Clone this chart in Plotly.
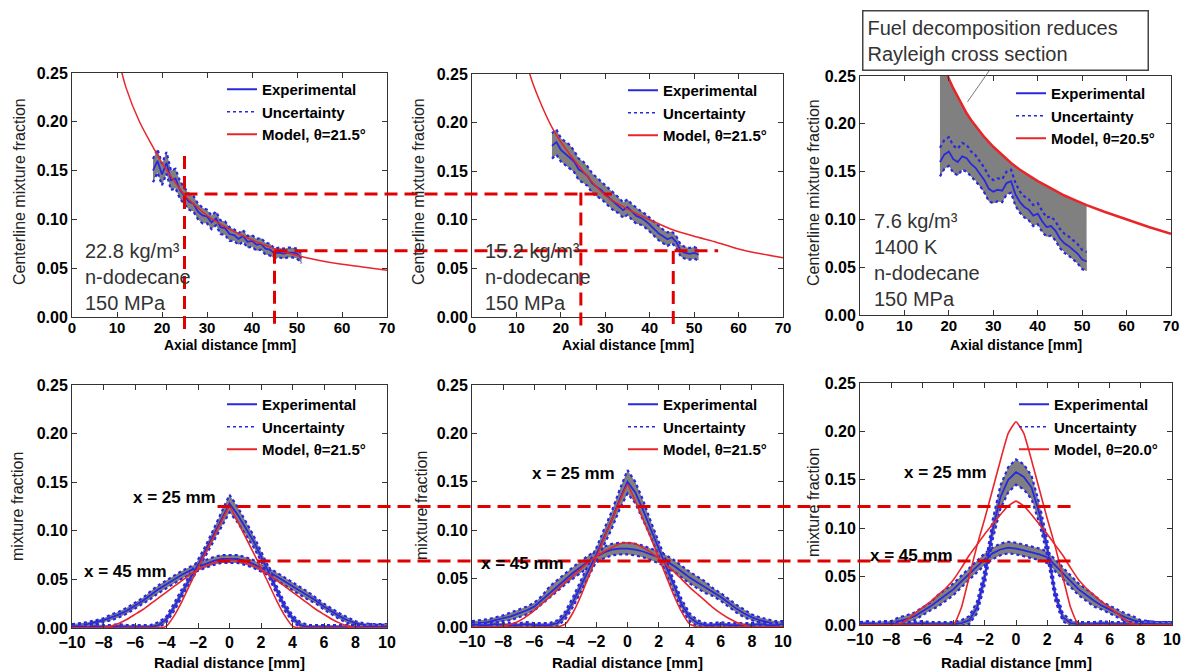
import plotly.graph_objects as go

W, H = 1195, 672
FONT = "Liberation Sans"
BLUE = "#2828e0"
RED = "#e8262a"
GRAY = "#808080"
GUIDE = "#e00000"

# ---------------- data: centreline (top row) ----------------
axial_x = [18, 19, 20, 21, 22, 23, 24, 25, 26, 27, 28, 29, 30, 31, 32, 33, 34,
           35, 36, 37, 38, 39, 40, 41, 42, 43, 44, 45, 46, 47, 48, 49, 50, 51]

exp_c1 = [0.150, 0.160, 0.146, 0.158, 0.140, 0.142, 0.130, 0.124, 0.118, 0.116, 0.108, 0.104,
          0.103, 0.097, 0.101, 0.092, 0.091, 0.085, 0.084, 0.080, 0.083, 0.077, 0.078, 0.074,
          0.075, 0.070, 0.069, 0.065, 0.066, 0.065, 0.066, 0.066, 0.065, 0.060]
unc_c1 = [0.012, 0.012, 0.011, 0.011, 0.010, 0.010, 0.009, 0.009, 0.008, 0.008, 0.008, 0.008,
          0.007, 0.007, 0.007, 0.007, 0.007, 0.007, 0.006, 0.006, 0.006, 0.006, 0.006, 0.006,
          0.006, 0.006, 0.006, 0.005, 0.005, 0.005, 0.005, 0.005, 0.005, 0.005]

exp_c2 = [0.176, 0.180, 0.172, 0.168, 0.165, 0.160, 0.152, 0.149, 0.145, 0.138, 0.134, 0.131,
          0.126, 0.122, 0.118, 0.115, 0.110, 0.113, 0.108, 0.104, 0.102, 0.099, 0.095, 0.090,
          0.086, 0.083, 0.080, 0.082, 0.077, 0.068, 0.066, 0.065, 0.066, 0.064]
unc_c2 = [0.013, 0.013, 0.012, 0.012, 0.012, 0.011, 0.011, 0.011, 0.010, 0.010, 0.010, 0.009,
          0.009, 0.009, 0.009, 0.008, 0.008, 0.008, 0.008, 0.008, 0.007, 0.007, 0.007, 0.007,
          0.007, 0.007, 0.007, 0.006, 0.006, 0.006, 0.006, 0.006, 0.006, 0.006]

exp_c3 = [0.160, 0.168, 0.171, 0.163, 0.160, 0.166, 0.164, 0.158, 0.154, 0.148, 0.141, 0.132,
          0.129, 0.131, 0.130, 0.138, 0.140, 0.126, 0.118, 0.113, 0.110, 0.104, 0.106, 0.098,
          0.092, 0.093, 0.088, 0.080, 0.075, 0.072, 0.068, 0.064, 0.058, 0.056]
unc_c3 = [0.015, 0.015, 0.015, 0.014, 0.014, 0.014, 0.014, 0.013, 0.013, 0.013, 0.013, 0.013,
          0.012, 0.012, 0.012, 0.012, 0.012, 0.012, 0.011, 0.011, 0.011, 0.011, 0.011, 0.011,
          0.010, 0.010, 0.010, 0.010, 0.010, 0.010, 0.010, 0.010, 0.010, 0.010]

model_x1 = [10, 12, 15, 20, 25, 30, 35, 40, 45, 50, 55, 60, 65, 70]
model_c1 = [0.270, 0.235, 0.200, 0.158, 0.125, 0.104, 0.090, 0.079, 0.070, 0.063, 0.058, 0.054, 0.051, 0.048]
model_x2 = [12, 13, 15, 18, 20, 25, 30, 35, 40, 45, 50, 55, 60, 65, 70]
model_c2 = [0.270, 0.250, 0.225, 0.195, 0.180, 0.150, 0.125, 0.111, 0.100, 0.090, 0.083, 0.077, 0.070, 0.065, 0.061]
model_x3 = [18, 19, 20, 21, 22, 23, 24, 25, 26, 28, 30, 32, 34, 36, 38, 40, 42, 44, 46, 48,
            50, 51, 55, 60, 65, 70]
model_c3 = [0.272, 0.259, 0.247, 0.237, 0.228, 0.219, 0.211, 0.204, 0.198, 0.186, 0.176, 0.167,
            0.159, 0.152, 0.146, 0.140, 0.135, 0.130, 0.125, 0.121, 0.117, 0.115, 0.108, 0.100,
            0.092, 0.085]

# ---------------- data: radial profiles (bottom row) ----------------
radial_r = [-10.0, -9.5, -9.0, -8.5, -8.0, -7.5, -7.0, -6.5, -6.0, -5.5, -5.0, -4.5, -4.0, -3.5,
            -3.0, -2.5, -2.0, -1.5, -1.0, -0.5, 0.0, 0.5, 1.0, 1.5, 2.0, 2.5, 3.0, 3.5, 4.0,
            4.5, 5.0, 5.5, 6.0, 6.5, 7.0, 7.5, 8.0, 8.5, 9.0, 9.5, 10.0]

# panel 4 (22.8 kg/m3)
exp25_p4 = [0.002, 0.002, 0.001, 0.002, 0.001, 0.001, 0.002, 0.001, 0.001, 0.001, 0.001, 0.003,
            0.009, 0.022, 0.037, 0.051, 0.065, 0.080, 0.096, 0.112, 0.128, 0.117, 0.104, 0.090,
            0.074, 0.057, 0.039, 0.022, 0.010, 0.003, 0.001, 0.001, 0.001, 0.001, 0.001, 0.001,
            0.001, 0.001, 0.002, 0.001, 0.002]
unc25_p4 = [0.002, 0.002, 0.002, 0.002, 0.002, 0.002, 0.002, 0.002, 0.002, 0.002, 0.002, 0.003,
            0.003, 0.004, 0.004, 0.004, 0.005, 0.005, 0.006, 0.007, 0.009, 0.008, 0.007, 0.006,
            0.005, 0.005, 0.004, 0.004, 0.003, 0.003, 0.002, 0.002, 0.002, 0.002, 0.002, 0.002,
            0.002, 0.002, 0.002, 0.002, 0.002]
model25_p4 = [0, 0, 0, 0, 0, 0, 0, 0, 0, 0, 0, 0,
              0.002, 0.013, 0.028, 0.045, 0.062, 0.078, 0.094, 0.110, 0.125, 0.110, 0.094, 0.078,
              0.062, 0.045, 0.028, 0.013, 0.002,
              0, 0, 0, 0, 0, 0, 0, 0, 0, 0, 0, 0]
exp45_p4 = [0.002, 0.003, 0.004, 0.006, 0.008, 0.011, 0.014, 0.018, 0.023, 0.028, 0.034, 0.040,
            0.045, 0.050, 0.055, 0.059, 0.063, 0.066, 0.069, 0.071, 0.071, 0.071, 0.069, 0.066,
            0.062, 0.058, 0.053, 0.048, 0.043, 0.038, 0.033, 0.028, 0.022, 0.017, 0.012, 0.008,
            0.005, 0.003, 0.002, 0.002, 0.002]
unc45_p4 = [0.002, 0.002, 0.002, 0.002, 0.002, 0.003, 0.003, 0.003, 0.003, 0.003, 0.004, 0.004,
            0.004, 0.004, 0.004, 0.004, 0.004, 0.004, 0.004, 0.004, 0.004, 0.004, 0.004, 0.004,
            0.004, 0.004, 0.004, 0.004, 0.004, 0.004, 0.004, 0.003, 0.003, 0.003, 0.003, 0.003,
            0.002, 0.002, 0.002, 0.002, 0.002]
model45_p4 = [0, 0, 0, 0, 0.000, 0.002, 0.005, 0.009, 0.014, 0.019, 0.025, 0.031, 0.037, 0.043,
              0.049, 0.055, 0.060, 0.064, 0.067, 0.069, 0.070, 0.069, 0.067, 0.064, 0.060, 0.055,
              0.049, 0.043, 0.037, 0.031, 0.025, 0.019, 0.014, 0.009, 0.005, 0.002, 0.000,
              0, 0, 0, 0]

# panel 5 (15.2 kg/m3)
exp25_p5 = [0.003, 0.002, 0.002, 0.003, 0.002, 0.002, 0.002, 0.003, 0.002, 0.002, 0.002, 0.004,
            0.012, 0.026, 0.042, 0.058, 0.075, 0.093, 0.111, 0.132, 0.150, 0.139, 0.121, 0.101,
            0.081, 0.061, 0.041, 0.023, 0.010, 0.004, 0.002, 0.002, 0.003, 0.002, 0.002, 0.002,
            0.002, 0.003, 0.002, 0.002, 0.003]
unc25_p5 = [0.002, 0.002, 0.002, 0.002, 0.002, 0.002, 0.002, 0.002, 0.002, 0.002, 0.002, 0.003,
            0.004, 0.005, 0.006, 0.006, 0.007, 0.008, 0.009, 0.010, 0.012, 0.011, 0.010, 0.008,
            0.007, 0.006, 0.006, 0.005, 0.004, 0.003, 0.002, 0.002, 0.002, 0.002, 0.002, 0.002,
            0.002, 0.002, 0.002, 0.002, 0.002]
model25_p5 = [0, 0, 0, 0, 0, 0, 0, 0, 0, 0, 0, 0,
              0.003, 0.015, 0.032, 0.052, 0.072, 0.092, 0.111, 0.130, 0.147, 0.130, 0.111, 0.092,
              0.072, 0.052, 0.032, 0.015, 0.003,
              0, 0, 0, 0, 0, 0, 0, 0, 0, 0, 0, 0]
exp45_p5 = [0.003, 0.004, 0.005, 0.007, 0.009, 0.011, 0.014, 0.017, 0.021, 0.028, 0.036, 0.043,
            0.050, 0.056, 0.062, 0.068, 0.073, 0.077, 0.080, 0.081, 0.081, 0.080, 0.078, 0.075,
            0.072, 0.068, 0.063, 0.057, 0.051, 0.046, 0.041, 0.036, 0.031, 0.025, 0.019, 0.014,
            0.010, 0.007, 0.005, 0.003, 0.003]
unc45_p5 = [0.003, 0.003, 0.003, 0.003, 0.003, 0.004, 0.004, 0.004, 0.004, 0.004, 0.006, 0.006,
            0.006, 0.006, 0.006, 0.006, 0.006, 0.006, 0.006, 0.006, 0.006, 0.006, 0.006, 0.006,
            0.006, 0.006, 0.006, 0.006, 0.006, 0.006, 0.006, 0.004, 0.004, 0.004, 0.004, 0.004,
            0.003, 0.003, 0.003, 0.003, 0.003]
model45_p5 = [0, 0, 0, 0, 0.001, 0.003, 0.006, 0.011, 0.017, 0.024, 0.031, 0.039, 0.046, 0.053,
              0.060, 0.067, 0.073, 0.078, 0.082, 0.086, 0.087, 0.086, 0.082, 0.077, 0.071, 0.064,
              0.057, 0.049, 0.041, 0.034, 0.027, 0.020, 0.014, 0.009, 0.005, 0.002, 0.000,
              0, 0, 0, 0]

# panel 6 (7.6 kg/m3, 1400 K)
exp25_p6 = [0.001, 0.002, 0.001, 0.001, 0.002, 0.001, 0.001, 0.001, 0.002, 0.001, 0.001, 0.001,
            0.001, 0.002, 0.005, 0.018, 0.050, 0.098, 0.132, 0.150, 0.158, 0.153, 0.142, 0.115,
            0.080, 0.032, 0.008, 0.002, 0.001, 0.001, 0.001, 0.002, 0.001, 0.001, 0.001, 0.001,
            0.001, 0.002, 0.001, 0.001, 0.001]
unc25_p6 = [0.002, 0.002, 0.002, 0.002, 0.002, 0.002, 0.002, 0.002, 0.002, 0.002, 0.002, 0.002,
            0.002, 0.003, 0.004, 0.006, 0.008, 0.010, 0.012, 0.013, 0.013, 0.013, 0.012, 0.010,
            0.008, 0.006, 0.004, 0.003, 0.002, 0.002, 0.002, 0.002, 0.002, 0.002, 0.002, 0.002,
            0.002, 0.002, 0.002, 0.002, 0.002]
model25_p6 = [0, 0, 0, 0, 0, 0, 0, 0, 0, 0, 0, 0,
              0.000, 0.018, 0.050, 0.082, 0.110, 0.140, 0.170, 0.198, 0.210, 0.198, 0.170, 0.140,
              0.110, 0.082, 0.050, 0.018, 0.000,
              0, 0, 0, 0, 0, 0, 0, 0, 0, 0, 0, 0]
exp45_p6 = [0.001, 0.001, 0.001, 0.002, 0.002, 0.004, 0.006, 0.009, 0.014, 0.019, 0.025, 0.031,
            0.037, 0.045, 0.053, 0.061, 0.068, 0.074, 0.078, 0.080, 0.079, 0.077, 0.075, 0.073,
            0.070, 0.062, 0.053, 0.045, 0.037, 0.031, 0.025, 0.020, 0.016, 0.012, 0.008, 0.005,
            0.003, 0.002, 0.001, 0.001, 0.001]
unc45_p6 = [0.002, 0.002, 0.002, 0.002, 0.002, 0.004, 0.004, 0.004, 0.004, 0.004, 0.006, 0.006,
            0.006, 0.006, 0.006, 0.006, 0.006, 0.006, 0.006, 0.006, 0.006, 0.006, 0.006, 0.006,
            0.006, 0.006, 0.006, 0.006, 0.006, 0.006, 0.006, 0.004, 0.004, 0.004, 0.004, 0.004,
            0.002, 0.002, 0.002, 0.002, 0.002]
model45_p6 = [0, 0, 0, 0, 0, 0.001, 0.005, 0.012, 0.018, 0.024, 0.031, 0.038, 0.047, 0.059,
              0.072, 0.083, 0.094, 0.104, 0.114, 0.123, 0.128, 0.123, 0.114, 0.104, 0.094, 0.083,
              0.072, 0.059, 0.047, 0.038, 0.031, 0.024, 0.018, 0.012, 0.005, 0.001,
              0, 0, 0, 0, 0]

model_names = ["Model, θ=21.5°", "Model, θ=21.5°", "Model, θ=20.5°",
               "Model, θ=21.5°", "Model, θ=21.5°", "Model, θ=20.0°"]
cond_texts = ["22.8 kg/m³<br>n-dodecane<br>150 MPa",
              "15.2 kg/m³<br>n-dodecane<br>150 MPa",
              "7.6 kg/m³<br>1400 K<br>n-dodecane<br>150 MPa"]
x_titles = ["Axial distance [mm]"] * 3 + ["Radial distance [mm]"] * 3
y_titles = ["Centerline mixture fraction"] * 3 + ["mixture fraction"] * 3

# ---------------- layout geometry (pixels) ----------------
P = {
    1: dict(px=(72, 387), py=(73, 317), xr=(0, 70)),
    2: dict(px=(472, 783), py=(74, 317), xr=(0, 70)),
    3: dict(px=(860, 1171), py=(76, 315), xr=(0, 70)),
    4: dict(px=(72, 387), py=(385, 628), xr=(-10, 10)),
    5: dict(px=(472, 783), py=(385, 627), xr=(-10, 10)),
    6: dict(px=(860, 1172), py=(383, 625), xr=(-10, 10)),
}
YR = (0, 0.25)
# axis-title pixel positions: (x-title centre y, y-title centre x, y-title centre y)
TITLE_POS = {1: (345, 19, 192), 2: (345, 418, 192), 3: (345, 813, 193),
             4: (662, 17, 507), 5: (662, 421, 506), 6: (662, 813, 503)}


def to_paper(i, xv, yv):
    p = P[i]
    px = p["px"][0] + (xv - p["xr"][0]) / (p["xr"][1] - p["xr"][0]) * (p["px"][1] - p["px"][0])
    py = p["py"][1] - (yv - YR[0]) / (YR[1] - YR[0]) * (p["py"][1] - p["py"][0])
    return px / W, 1 - py / H


fig = go.Figure()


def ax(i):
    return ("x" if i == 1 else f"x{i}"), ("y" if i == 1 else f"y{i}")


def leg(i):
    return "legend" if i == 1 else f"legend{i}"


def add_band(i, xs, ys, unc):
    xa, ya = ax(i)
    up = [a + b for a, b in zip(ys, unc)]
    lo = [a - b for a, b in zip(ys, unc)]
    fig.add_trace(go.Scatter(x=list(xs) + list(xs)[::-1], y=up + lo[::-1], fill="toself",
                             fillcolor=GRAY, line=dict(width=0), mode="lines",
                             hoverinfo="skip", showlegend=False, xaxis=xa, yaxis=ya))
    for yy in (up, lo):
        fig.add_trace(go.Scatter(x=xs, y=yy, mode="lines",
                                 line=dict(color=BLUE, width=2.2, dash="dot"),
                                 showlegend=False, xaxis=xa, yaxis=ya, hoverinfo="skip"))
    fig.add_trace(go.Scatter(x=xs, y=ys, mode="lines", line=dict(color=BLUE, width=1.8),
                             showlegend=False, xaxis=xa, yaxis=ya))


def add_model(i, xs, ys, width=1.5, shape="spline", smoothing=0.6):
    xa, ya = ax(i)
    ln = dict(color=RED, width=width, shape=shape)
    if shape == "spline":
        ln["smoothing"] = smoothing
    fig.add_trace(go.Scatter(x=xs, y=ys, mode="lines", line=ln,
                             showlegend=False, xaxis=xa, yaxis=ya))


def add_legend_entries(i):
    xa, ya = ax(i)
    entries = [("Experimental", dict(color=BLUE, width=2)),
               ("Uncertainty", dict(color=BLUE, width=1.5, dash="dot")),
               (model_names[i - 1], dict(color=RED, width=2))]
    for name, ln in entries:
        fig.add_trace(go.Scatter(x=[None], y=[None], mode="lines", line=ln, name=name,
                                 xaxis=xa, yaxis=ya, legend=leg(i), showlegend=True))


# top-right gap fill (fuel decomposition) between lower uncertainty and model
sel = [k for k, xv in enumerate(model_x3) if axial_x[0] <= xv <= axial_x[-1]]
gap_x = [model_x3[k] for k in sel]
gap_y = [model_c3[k] for k in sel]
lo3 = [a - b for a, b in zip(exp_c3, unc_c3)]
fig.add_trace(go.Scatter(x=gap_x + axial_x[::-1], y=gap_y + lo3[::-1], fill="toself",
                         fillcolor=GRAY, line=dict(width=0), mode="lines",
                         hoverinfo="skip", showlegend=False, xaxis="x3", yaxis="y3"))

add_band(1, axial_x, exp_c1, unc_c1)
add_model(1, model_x1, model_c1)
add_band(2, axial_x, exp_c2, unc_c2)
add_model(2, model_x2, model_c2)
add_band(3, axial_x, exp_c3, unc_c3)
add_model(3, model_x3, model_c3, width=2.5, shape="linear")

for i, (e25, u25, m25, e45, u45, m45) in zip(
        [4, 5, 6],
        [(exp25_p4, unc25_p4, model25_p4, exp45_p4, unc45_p4, model45_p4),
         (exp25_p5, unc25_p5, model25_p5, exp45_p5, unc45_p5, model45_p5),
         (exp25_p6, unc25_p6, model25_p6, exp45_p6, unc45_p6, model45_p6)]):
    add_band(i, radial_r, e45, u45)
    add_band(i, radial_r, e25, u25)
    add_model(i, radial_r, m45, width=1.6, smoothing=0.4)
    add_model(i, radial_r, m25, width=1.6, smoothing=0.4)

for i in range(1, 7):
    add_legend_entries(i)

# ---------------- axes ----------------
layout = dict(width=W, height=H, autosize=False, margin=dict(l=0, r=0, t=0, b=0, pad=0),
              paper_bgcolor="white", plot_bgcolor="white",
              font=dict(family=FONT, color="black"))
for i in range(1, 7):
    p = P[i]
    xk = "xaxis" if i == 1 else f"xaxis{i}"
    yk = "yaxis" if i == 1 else f"yaxis{i}"
    xa, ya = ax(i)
    top = i <= 3
    layout[xk] = dict(domain=[p["px"][0] / W, p["px"][1] / W], anchor=ya, range=list(p["xr"]),
                      tickmode="linear", tick0=p["xr"][0], dtick=10 if top else 2,
                      ticks="inside", ticklen=5, tickcolor="#333", showline=True, linecolor="#333",
                      linewidth=1, mirror="ticks", showgrid=False, zeroline=False,
                      tickfont=dict(family=FONT, size=15 if top else 16, color="black", weight="bold"),
                      automargin=False, ticklabelstandoff=-3 if top else 0)
    layout[yk] = dict(domain=[1 - p["py"][1] / H, 1 - p["py"][0] / H], anchor=xa, range=list(YR),
                      tickmode="linear", tick0=0, dtick=0.05, tickformat=".2f",
                      ticks="inside", ticklen=5, tickcolor="#333", showline=True, linecolor="#333",
                      linewidth=1, mirror="ticks", showgrid=False, zeroline=False,
                      tickfont=dict(family=FONT, size=16, color="black", weight="bold"),
                      automargin=False)

# legends
leg_pos = {1: (222, 73), 2: (623, 74), 3: (1011, 77), 4: (222, 388), 5: (623, 388), 6: (1014, 388)}
for i in range(1, 7):
    lx, ly = leg_pos[i]
    layout[leg(i)] = dict(x=lx / W, y=1 - ly / H, xanchor="left", yanchor="top",
                          bgcolor="rgba(0,0,0,0)", borderwidth=0,
                          font=dict(family=FONT, size=15, color="black", weight="bold"),
                          tracegroupgap=0)

fig.update_layout(**layout)

# ---------------- axis titles ----------------
for i in range(1, 7):
    xt_y, yt_x, yt_y = TITLE_POS[i]
    cx = (P[i]["px"][0] + P[i]["px"][1]) / 2
    fig.add_annotation(x=cx / W, y=1 - xt_y / H, xref="paper", yref="paper", showarrow=False,
                       text=f"<b>{x_titles[i - 1]}</b>", xanchor="center", yanchor="middle",
                       font=dict(family=FONT, size=14 if i <= 3 else 15, color="black"))
    fig.add_annotation(x=yt_x / W, y=1 - yt_y / H, xref="paper", yref="paper", showarrow=False,
                       text=y_titles[i - 1], textangle=-90, xanchor="center", yanchor="middle",
                       font=dict(family=FONT, size=16, color="#222"))

# ---------------- annotations ----------------
cond_pos = [(1, 2.4, 0.041), (2, 2.5, 0.041), (3, 2.7, 0.058)]
for (i, xv, yv), txt in zip(cond_pos, cond_texts):
    xa, ya = ax(i)
    fig.add_annotation(x=xv, y=yv, xref=xa, yref=ya, text=txt, showarrow=False,
                       xanchor="left", yanchor="middle", align="left",
                       font=dict(family=FONT, size=20, color="#333"))

pos_labels = [(4, -3.5, 0.134, -6.6, 0.058), (5, -3.5, 0.159, -6.75, 0.066), (6, -4.5, 0.158, -6.7, 0.072)]
for i, x25, y25, x45, y45 in pos_labels:
    xa, ya = ax(i)
    for xv, yv, t in [(x25, y25, "x = 25 mm"), (x45, y45, "x = 45 mm")]:
        fig.add_annotation(x=xv, y=yv, xref=xa, yref=ya, text=f"<b>{t}</b>", showarrow=False,
                           xanchor="center", yanchor="middle",
                           font=dict(family=FONT, size=17, color="black"))

# fuel decomposition box
fig.add_annotation(x=862 / W, y=1 - 10 / H, xref="paper", yref="paper", xanchor="left", yanchor="top",
                   text="Fuel decomposition reduces<br>Rayleigh cross section", showarrow=False,
                   align="left", width=276, height=50, bgcolor="white", bordercolor="#444",
                   borderwidth=1.5, borderpad=4, font=dict(family=FONT, size=20, color="#333"))
bx, by = to_paper(3, 32.0, 0.275)
ex, ey = to_paper(3, 24.2, 0.223)
fig.add_shape(type="line", xref="paper", yref="paper", x0=bx, y0=by, x1=ex, y1=ey,
              line=dict(color="#777", width=1))

# ---------------- red dashed guide lines ----------------
dash = dict(color=GUIDE, width=3, dash="13px,7px")
top_h = [(0.126, 25, 31.5), (0.068, 45, 55.4)]
for yv, xs, xe in top_h:
    x0, y0 = to_paper(1, xs, yv)
    x1, _ = to_paper(2, xe, yv)
    fig.add_shape(type="line", xref="paper", yref="paper", x0=x0, y0=y0, x1=x1, y1=y0,
                  line=dash, layer="above")
top_v = [(1, 25, 0.165), (1, 45, 0.068), (2, 24.5, 0.128), (2, 45.3, 0.068)]
for i, xv, yt in top_v:
    x0, y0 = to_paper(i, xv, yt)
    _, y1 = to_paper(i, xv, -0.013)
    fig.add_shape(type="line", xref="paper", yref="paper", x0=x0, y0=y0, x1=x0, y1=y1,
                  line=dash, layer="above")
bot_h = [(0.125, -0.76, 3.65), (0.069, -0.76, 3.65)]
for yv, xs, xe in bot_h:
    x0, y0 = to_paper(4, xs, yv)
    x1, _ = to_paper(6, xe, yv)
    fig.add_shape(type="line", xref="paper", yref="paper", x0=x0, y0=y0, x1=x1, y1=y0,
                  line=dash, layer="above")

fig.write_html("out.html")
